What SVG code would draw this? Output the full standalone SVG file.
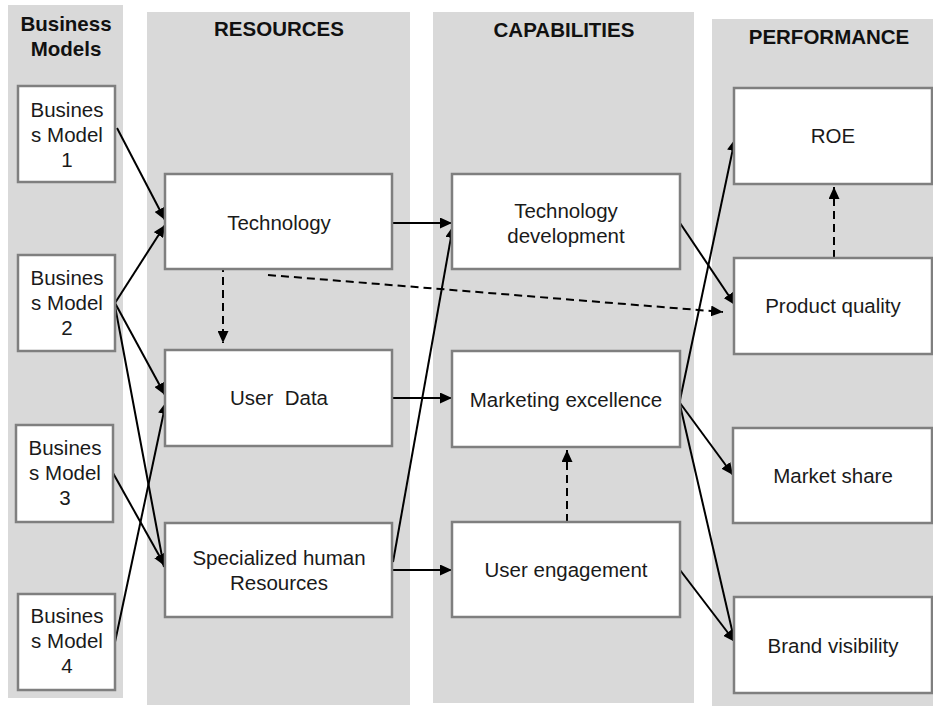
<svg xmlns="http://www.w3.org/2000/svg" width="933" height="706" viewBox="0 0 933 706">
<style>
.panel{fill:#d9d9d9}
.node rect{fill:#fff;stroke:#7f7f7f;stroke-width:2.5}
text{font-family:"Liberation Sans",Arial,sans-serif;font-size:20.5px;fill:#1a1a1a;text-anchor:middle}
.hdr{font-weight:bold;font-size:20.5px;fill:#111}
.c{stroke:#000;stroke-width:2;fill:none;marker-end:url(#ah)}
.d{stroke-dasharray:8,5}
</style>
<defs>
<marker id="ah" markerUnits="userSpaceOnUse" markerWidth="12" markerHeight="11" refX="12" refY="5.5" orient="auto">
<path d="M0,0 L12,5.5 L0,11 z" fill="#000"/>
</marker>
</defs>
<g id="panels">
<rect class="panel" x="8" y="5" width="115" height="693"/>
<rect class="panel" x="147" y="12" width="263" height="693"/>
<rect class="panel" x="433" y="12" width="261" height="691"/>
<rect class="panel" x="712" y="19" width="221" height="687"/>
<text class="hdr" x="66" y="31">Business</text>
<text class="hdr" x="66" y="56">Models</text>
<text class="hdr" x="279" y="36">RESOURCES</text>
<text class="hdr" x="564" y="37">CAPABILITIES</text>
<text class="hdr" x="829" y="44">PERFORMANCE</text>
</g>
<g id="connectors">
<line class="c" x1="117" y1="128" x2="165" y2="220"/>
<line class="c" x1="115" y1="303" x2="165" y2="225"/>
<line class="c" x1="115" y1="303" x2="165" y2="395"/>
<line class="c" x1="115" y1="306" x2="164" y2="567"/>
<line class="c" x1="113" y1="473" x2="165" y2="566"/>
<line class="c" x1="115" y1="642" x2="166" y2="402"/>
<line class="c" x1="392" y1="223" x2="452" y2="223"/>
<line class="c" x1="393" y1="562" x2="453" y2="226"/>
<line class="c" x1="392" y1="398" x2="452" y2="398"/>
<line class="c" x1="392" y1="570" x2="452" y2="570"/>
<line class="c" x1="680" y1="223" x2="735" y2="305"/>
<line class="c" x1="680" y1="400" x2="735" y2="139"/>
<line class="c" x1="680" y1="403" x2="733" y2="475"/>
<line class="c" x1="680" y1="405" x2="735" y2="643"/>
<line class="c" x1="680" y1="570" x2="735" y2="642"/>
<line class="c d" x1="223" y1="264" x2="223" y2="343"/>
<line class="c d" x1="268" y1="275" x2="723" y2="312"/>
<line class="c d" x1="834" y1="258" x2="834" y2="187"/>
<line class="c d" x1="567" y1="522" x2="567" y2="450"/>
</g>
<g id="bm1" class="node"><rect x="18" y="86" width="97" height="96"/><text x="67" y="117">Busines</text><text x="67" y="142">s Model</text><text x="67" y="167">1</text></g>
<g id="bm2" class="node"><rect x="18" y="255" width="97" height="96"/><text x="67" y="285">Busines</text><text x="67" y="310">s Model</text><text x="67" y="335">2</text></g>
<g id="bm3" class="node"><rect x="16" y="425" width="97" height="97"/><text x="65" y="455">Busines</text><text x="65" y="480">s Model</text><text x="65" y="505">3</text></g>
<g id="bm4" class="node"><rect x="18" y="594" width="97" height="96"/><text x="67" y="623">Busines</text><text x="67" y="648">s Model</text><text x="67" y="673">4</text></g>
<g id="technology" class="node"><rect x="165" y="174" width="227" height="95"/><text x="279" y="230">Technology</text></g>
<g id="userdata" class="node"><rect x="165" y="350" width="227" height="96"/><text x="279" y="405" xml:space="preserve">User  Data</text></g>
<g id="humanres" class="node"><rect x="165" y="523" width="227" height="94"/><text x="279" y="565">Specialized human</text><text x="279" y="590">Resources</text></g>
<g id="techdev" class="node"><rect x="452" y="174" width="228" height="95"/><text x="566" y="218">Technology</text><text x="566" y="243">development</text></g>
<g id="marketing" class="node"><rect x="452" y="351" width="228" height="96"/><text x="566" y="407">Marketing excellence</text></g>
<g id="engagement" class="node"><rect x="452" y="522" width="228" height="95"/><text x="566" y="577">User engagement</text></g>
<g id="roe" class="node"><rect x="734" y="88" width="198" height="96"/><text x="833" y="143">ROE</text></g>
<g id="quality" class="node"><rect x="734" y="258" width="198" height="96"/><text x="833" y="313">Product quality</text></g>
<g id="share" class="node"><rect x="733" y="428" width="199" height="95"/><text x="833" y="483">Market share</text></g>
<g id="brand" class="node"><rect x="734" y="597" width="198" height="96"/><text x="833" y="653">Brand visibility</text></g>
</svg>
